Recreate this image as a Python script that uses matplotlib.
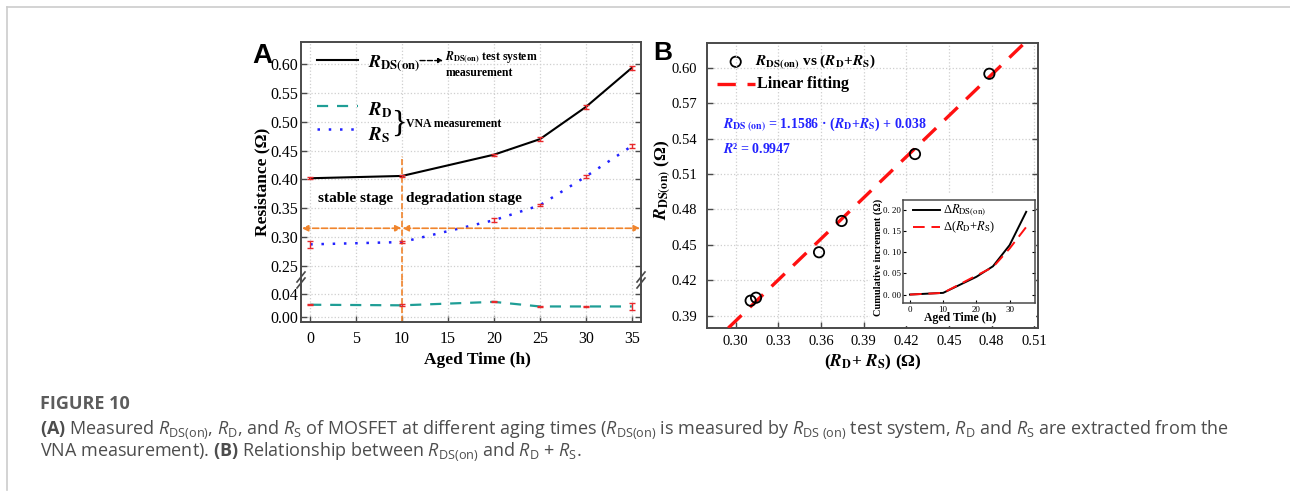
import matplotlib.pyplot as plt
import matplotlib.lines as mlines
import matplotlib.patches as mpatches
import numpy as np

# panel A: measured resistances vs aged time
aged_time = [0, 10, 20, 25, 30, 35]
r_ds_on = [0.402, 0.406, 0.443, 0.470, 0.526, 0.594]
r_ds_on_err = [0.002, 0.002, 0.002, 0.003, 0.004, 0.004]
r_s = [0.287, 0.291, 0.329, 0.355, 0.405, 0.458]
r_s_err = [0.006, 0.002, 0.003, 0.002, 0.002, 0.003]
r_d = [0.022, 0.021, 0.027, 0.019, 0.019, 0.019]
r_d_err = [0.001, 0.0015, 0.001, 0.0015, 0.001, 0.0055]
stage_split = 10
stage_arrow_y = 0.315

# panel B: R_DS(on) vs (R_D + R_S)
rd_plus_rs = [0.3105, 0.3143, 0.3586, 0.3745, 0.4261, 0.4784]
rds_measured = [0.4027, 0.4052, 0.4437, 0.4702, 0.5269, 0.5949]
fit_slope = 1.1586
fit_intercept = 0.038
fit_r2 = 0.9947

# inset: cumulative increments
inset_time = [0, 10, 20, 25, 30, 35]
delta_rds = [0.0, 0.004, 0.042, 0.067, 0.117, 0.196]
delta_rdrs = [0.0, 0.004, 0.045, 0.065, 0.109, 0.160]
inset_yticks = [0.0, 0.05, 0.10, 0.15, 0.20]
inset_yticklabels = ['0. 00', '0. 05', '0. 10', '0. 15', '0. 20']

W, H = 1290, 493

plt.rcParams['font.family'] = ['Liberation Serif', 'DejaVu Serif']
plt.rcParams['mathtext.fontset'] = 'stix'
plt.rcParams['mathtext.rm'] = 'Open Sans'
plt.rcParams['mathtext.it'] = 'Open Sans:italic'
plt.rcParams['mathtext.bf'] = 'Open Sans:bold'

SPINE = '#4a4a4a'
GRID = '#cfcfcf'
ERR = '#e8282b'
ORANGE = '#f0842c'
TEAL = '#1f9e96'
BLUE = '#2222ff'


def px_rect(x0, y0, x1, y1):
    # pixel box (top-left origin) -> figure fraction
    return [x0 / W, (H - y1) / H, (x1 - x0) / W, (y1 - y0) / H]


def style_axes(ax, labelsize, pad):
    for sp in ax.spines.values():
        sp.set_color(SPINE)
        sp.set_linewidth(1.4)
    ax.tick_params(direction='in', length=4, width=1, color=SPINE,
                   labelsize=labelsize, pad=pad, right=True)
    ax.grid(True, linestyle=':', color=GRID, linewidth=0.9)


def R(sub):
    return r'$\mathbfit{R}_{\mathbf{%s}}$' % sub


fig = plt.figure(figsize=(W / 100, H / 100), dpi=100)

# page frame
fig.add_artist(mlines.Line2D([7 / W, 1], [1 - 7 / H, 1 - 7 / H], color='#cccccc', lw=1.2))
fig.add_artist(mlines.Line2D([7 / W, 7 / W], [3 / H, 1 - 7 / H], color='#cccccc', lw=1.2))

# ---------------- panel A (broken axis) ----------------
ax_top = fig.add_axes(px_rect(301, 42, 641, 280))
ax_bot = fig.add_axes(px_rect(301, 280, 641, 322))
for ax in (ax_top, ax_bot):
    style_axes(ax, 11.5, 2)
    ax.set_xlim(-1, 36)
    ax.set_xticks(np.arange(0, 36, 5))
ax_top.spines['bottom'].set_visible(False)
ax_bot.spines['top'].set_visible(False)
ax_top.tick_params(bottom=False, labelbottom=False)
ax_bot.tick_params(axis='x', pad=6.5)
ax_top.set_ylim(0.225, 0.639)
ax_top.set_yticks(np.arange(0.25, 0.61, 0.05))
ax_top.yaxis.set_major_formatter('{x:.2f}')
ax_bot.set_ylim(-0.008, 0.065)
ax_bot.set_yticks([0.0, 0.04])
ax_bot.yaxis.set_major_formatter('{x:.2f}')

ax_top.plot(aged_time, r_ds_on, color='black', lw=1.5, zorder=3)
ax_top.plot(aged_time, r_s, color=BLUE, lw=1.8, linestyle=(0, (1, 3.5)), zorder=3)
ax_bot.plot(aged_time, r_d, color=TEAL, lw=1.6, linestyle=(0, (5, 4)), zorder=3)
ax_top.errorbar(aged_time, r_ds_on, yerr=r_ds_on_err, fmt='none', ecolor=ERR,
                capsize=2.5, elinewidth=1, capthick=1, zorder=4)
ax_top.errorbar(aged_time, r_s, yerr=r_s_err, fmt='none', ecolor=ERR,
                capsize=2.5, elinewidth=1, capthick=1, zorder=4)
ax_bot.errorbar(aged_time, r_d, yerr=r_d_err, fmt='none', ecolor=ERR,
                capsize=2.5, elinewidth=1, capthick=1, zorder=4)

# stage markers
ax_top.plot([stage_split, stage_split], [0.225, 0.44], color=ORANGE, lw=1.2, ls='--', zorder=2)
ax_bot.axvline(stage_split, color=ORANGE, lw=1.2, ls='--', zorder=2)
for x0, x1 in [(-0.9, stage_split - 0.05), (stage_split + 0.05, 35.9)]:
    ax_top.annotate('', xy=(x1, stage_arrow_y), xytext=(x0, stage_arrow_y),
                    arrowprops=dict(arrowstyle='<|-|>', color=ORANGE, lw=1.2, ls='--',
                                    mutation_scale=9, shrinkA=0, shrinkB=0))
ax_top.text(4.9, 0.366, 'stable stage', ha='center', va='center', fontsize=11, fontweight='bold')
ax_top.text(16.7, 0.366, 'degradation stage', ha='center', va='center', fontsize=11, fontweight='bold')

# hand-drawn legend of panel A
t = ax_top.transAxes
ax_top.plot([0.047, 0.168], [0.924, 0.924], color='black', lw=1.5, transform=t)
ax_top.plot([0.047, 0.168], [0.732, 0.732], color=TEAL, lw=1.6, ls=(0, (5, 4)), transform=t)
ax_top.plot([0.047, 0.168], [0.634, 0.634], color=BLUE, lw=1.8, ls=(0, (1, 3.5)), transform=t)
ax_top.text(0.197, 0.899, R('DS(on)'), transform=t, fontsize=13, va='baseline')
ax_top.text(0.197, 0.693, R('D'), transform=t, fontsize=13.5, va='baseline')
ax_top.text(0.197, 0.588, R('S'), transform=t, fontsize=13.5, va='baseline')
ax_top.annotate('', xy=(0.418, 0.922), xytext=(0.35, 0.922), xycoords='axes fraction',
                arrowprops=dict(arrowstyle='-|>', color='black', lw=1, ls='--',
                                mutation_scale=7, shrinkA=0, shrinkB=0))
ax_top.text(0.424, 0.937, R('DS(on)') + ' test system', transform=t, fontsize=8.5,
            fontweight='bold', va='center')
ax_top.text(0.424, 0.868, 'measurement', transform=t, fontsize=8.5, fontweight='bold', va='center')
ax_top.text(0.288, 0.655, '}', transform=t, fontsize=23, va='center', ha='center')
ax_top.text(0.308, 0.655, 'VNA measurement', transform=t, fontsize=8.5, fontweight='bold', va='center')

# axis break marks
for xb in (301, 641):
    for dy in (-3, 3):
        fig.add_artist(mlines.Line2D([(xb - 4) / W, (xb + 4) / W],
                                     [(H - 280 - dy - 5) / H, (H - 280 - dy + 5) / H],
                                     color=SPINE, lw=1.2))

fig.text(262 / W, (H - 182) / H, 'Resistance (Ω)', rotation=90, ha='center', va='center',
         fontsize=12.5, fontweight='bold')
fig.text(477 / W, (H - 360) / H, 'Aged Time (h)', ha='center', va='center',
         fontsize=12.5, fontweight='bold')
fig.text(252 / W, (H - 63) / H, 'A', family='Liberation Sans', fontsize=20,
         fontweight='bold', va='baseline')

# ---------------- panel B ----------------
ax_b = fig.add_axes(px_rect(706.7, 43.3, 1037.7, 327.7))
style_axes(ax_b, 10.5, 5)
ax_b.tick_params(axis='y', pad=7)
ax_b.set_xlim(0.2796, 0.5124)
ax_b.set_ylim(0.3798, 0.6207)
ax_b.set_xticks(np.arange(0.30, 0.511, 0.03))
ax_b.set_yticks(np.arange(0.39, 0.601, 0.03))
ax_b.xaxis.set_major_formatter('{x:.2f}')
ax_b.yaxis.set_major_formatter('{x:.2f}')

xfit = np.array(ax_b.get_xlim())
ax_b.plot(xfit, fit_slope * xfit + fit_intercept, color='#ff1010', lw=2.4,
          ls=(0, (5.5, 3.5)), zorder=3)
ax_b.scatter(rd_plus_rs, rds_measured, s=55, facecolors='none', edgecolors='black',
             linewidths=1.3, zorder=4)

tb = ax_b.transAxes
ax_b.scatter([0.0876], [0.935], s=55, facecolors='none', edgecolors='black',
             linewidths=1.3, transform=tb, clip_on=False)
ax_b.text(0.146, 0.934, R('DS(on)') + ' vs (' + R('D') + '+' + R('S') + ')', transform=tb,
          fontsize=11, fontweight='bold', va='center')
ax_b.plot([0.031, 0.146], [0.856, 0.856], color='#ff1010', lw=2.4, ls=(0, (5.5, 3.5)), transform=tb)
ax_b.text(0.153, 0.856, 'Linear fitting', transform=tb, fontsize=11.5, fontweight='bold', va='center')
ax_b.text(0.050, 0.713, R(r'DS\ (on)') + ' = %.4f · (' % fit_slope + R('D') + '+' + R('S')
          + ') + %.3f' % fit_intercept, transform=tb, fontsize=10, fontweight='bold',
          color=BLUE, va='center')
ax_b.text(0.050, 0.628, r'$\mathbfit{R}$² = %.4f' % fit_r2, transform=tb, fontsize=10,
          fontweight='bold', color=BLUE, va='center')

# white backdrop behind inset
ax_b.add_patch(mpatches.Rectangle((870 / W, (H - 326) / H), 166 / W, 133 / H,
                                  transform=fig.transFigure, facecolor='white',
                                  edgecolor='none', zorder=1.8))

fig.text(663 / W, (H - 180) / H, R('DS(on)') + ' (Ω)', rotation=90, ha='center', va='center',
         fontsize=12.5, fontweight='bold')
fig.text(873 / W, (H - 362) / H, '(' + R('D') + '+ ' + R('S') + ') (Ω)', ha='center',
         va='center', fontsize=12.5, fontweight='bold')
fig.text(653 / W, (H - 60) / H, 'B', family='Liberation Sans', fontsize=19,
         fontweight='bold', va='baseline')

# ---------------- inset ----------------
ax_in = fig.add_axes(px_rect(903.3, 200, 1034.5, 303))
ax_in.set_zorder(5)
for sp in ax_in.spines.values():
    sp.set_color(SPINE)
    sp.set_linewidth(1.1)
ax_in.tick_params(direction='in', length=2.5, width=0.8, labelsize=6.5, pad=2, right=True)
ax_in.plot(inset_time, delta_rds, color='black', lw=1.4)
ax_in.plot(inset_time, delta_rdrs, color='#ff1010', lw=1.4, ls=(0, (6, 3.5)))
ax_in.set_xlim(-2, 37.5)
ax_in.set_ylim(-0.02, 0.224)
ax_in.set_xticks([0, 10, 20, 30])
ax_in.set_yticks(inset_yticks)
ax_in.set_yticklabels(inset_yticklabels)
ti = ax_in.transAxes
ax_in.plot([0.074, 0.279], [0.903, 0.903], color='black', lw=1.4, transform=ti)
ax_in.plot([0.074, 0.279], [0.738, 0.738], color='#ff1010', lw=1.4, ls=(0, (6, 3.5)), transform=ti)
ax_in.text(0.302, 0.903, r'Δ$\mathit{R}_{\mathrm{DS(on)}}$', transform=ti, fontsize=9, va='center')
ax_in.text(0.302, 0.738, r'Δ($\mathit{R}_{\mathrm{D}}$+$\mathit{R}_{\mathrm{S}}$)', transform=ti,
           fontsize=9, va='center')
fig.text(878 / W, (H - 257) / H, 'Cumulative increment (Ω)', rotation=90, ha='center',
         va='center', fontsize=7.5, fontweight='bold')
fig.text(960 / W, (H - 318) / H, 'Aged Time (h)', ha='center', va='center',
         fontsize=8.5, fontweight='bold')

# ---------------- caption ----------------
cap = dict(family='Open Sans', fontsize=13, color='#4d4d4d', math_fontfamily='custom')
fig.text(40 / W, (H - 409) / H, 'FIGURE 10', family='Open Sans', fontsize=13,
         fontweight='bold', color='#5c5c5c')
fig.text(40 / W, (H - 434) / H,
         r'$\mathbf{(A)}$ Measured $R_{\mathrm{DS(on)}}$, $R_{\mathrm{D}}$, and $R_{\mathrm{S}}$ '
         r'of MOSFET at different aging times ($R_{\mathrm{DS(on)}}$ is measured by '
         r'$R_{\mathrm{DS\ (on)}}$ test system, $R_{\mathrm{D}}$ and $R_{\mathrm{S}}$ are '
         r'extracted from the', **cap)
fig.text(40 / W, (H - 456) / H,
         r'VNA measurement). $\mathbf{(B)}$ Relationship between $R_{\mathrm{DS(on)}}$ and '
         r'$R_{\mathrm{D}}$ + $R_{\mathrm{S}}$.', **cap)

fig.savefig('out.png', dpi=100)
